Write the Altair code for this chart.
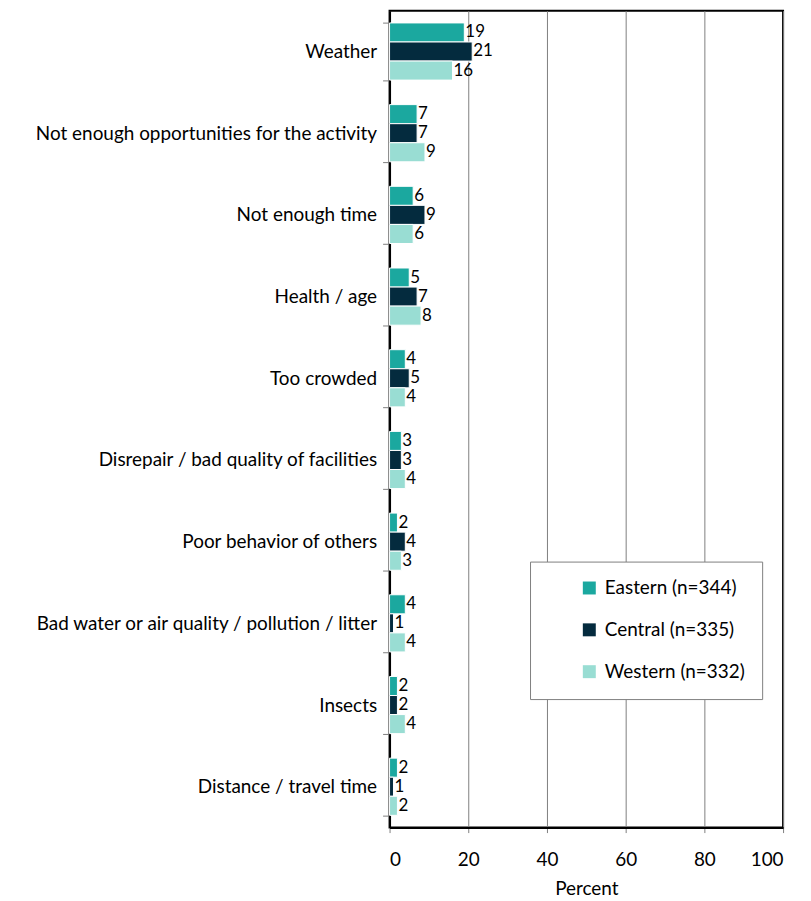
import altair as alt
import pandas as pd

categories = [
    "Weather",
    "Not enough opportunities for the activity",
    "Not enough time",
    "Health / age",
    "Too crowded",
    "Disrepair / bad quality of facilities",
    "Poor behavior of others",
    "Bad water or air quality / pollution / litter",
    "Insects",
    "Distance / travel time",
]
series = ["Eastern (n=344)", "Central (n=335)", "Western (n=332)"]
eastern = [19, 7, 6, 5, 4, 3, 2, 4, 2, 2]
central = [21, 7, 9, 7, 5, 3, 4, 1, 2, 1]
western = [16, 9, 6, 8, 4, 4, 3, 4, 4, 2]
colors = ["#1BA89F", "#042B3E", "#99DDD3"]
x_ticks = [0, 20, 40, 60, 80, 100]

rows = []
for s, vals in zip(series, [eastern, central, western]):
    for c, v in zip(categories, vals):
        rows.append({"Reason": c, "Region": s, "Percent": v})
df = pd.DataFrame(rows)

FONT = "Lato"
FS = 19

y_enc = alt.Y(
    "Reason:N",
    sort=categories,
    title=None,
    scale=alt.Scale(paddingInner=0.3, paddingOuter=0.15),
    axis=alt.Axis(
        tickBand="extent",
        tickSize=7,
        tickColor="#808080",
        labelPadding=6,
        labelFontSize=FS,
        labelColor="#000000",
        labelFont=FONT,
        labelLimit=420,
        domain=True,
        domainColor="#000000",
        domainWidth=2,
        grid=False,
    ),
)
x_enc = alt.X(
    "Percent:Q",
    scale=alt.Scale(domain=[0, 100], nice=False),
    title="Percent",
    axis=alt.Axis(
        values=x_ticks,
        grid=True,
        gridColor="#808080",
        gridWidth=1,
        tickColor="#808080",
        tickSize=5,
        labelPadding=18,
        labelFontSize=FS,
        labelColor="#000000",
        labelFont=FONT,
        titleFontSize=FS,
        titleFont=FONT,
        titleFontWeight="normal",
        titleColor="#000000",
        titlePadding=10,
        domain=True,
        domainColor="#000000",
        domainWidth=2,
    ),
)
yoff = alt.YOffset("Region:N", sort=series, scale=alt.Scale(paddingInner=0))

bars = alt.Chart(df).mark_bar(stroke="white", strokeWidth=1).encode(
    y=y_enc,
    x=x_enc,
    yOffset=yoff,
    color=alt.Color(
        "Region:N",
        sort=series,
        scale=alt.Scale(domain=series, range=colors),
        legend=alt.Legend(
            title=None,
            orient="none",
            legendX=141,
            legendY=553,
            symbolType="square",
            symbolSize=169,
            symbolStrokeWidth=0,
            symbolOffset=33,
            labelFontSize=FS,
            labelFont=FONT,
            labelColor="#000000",
            labelOffset=6,
            rowPadding=22,
            padding=17,
            fillColor="white",
            strokeColor="#808080",
            labelLimit=300,
        ),
    ),
)

labels = alt.Chart(df).mark_text(
    align="left", baseline="middle", dx=1, fontSize=17, font=FONT, color="#000000"
).encode(
    y=alt.Y("Reason:N", sort=categories),
    x="Percent:Q",
    yOffset=yoff,
    text=alt.Text("Percent:Q", format="d"),
)

chart = (
    alt.layer(bars, labels)
    .properties(
        width=395,
        height=820,
        background="white",
        autosize=alt.AutoSizeParams(type="none"),
        padding={"left": 383, "top": 1, "right": 20, "bottom": 70},
    )
    .configure_view(stroke="#000000", strokeWidth=2)
)

chart.save("out.html", embed_options={"renderer": "svg", "actions": False})
